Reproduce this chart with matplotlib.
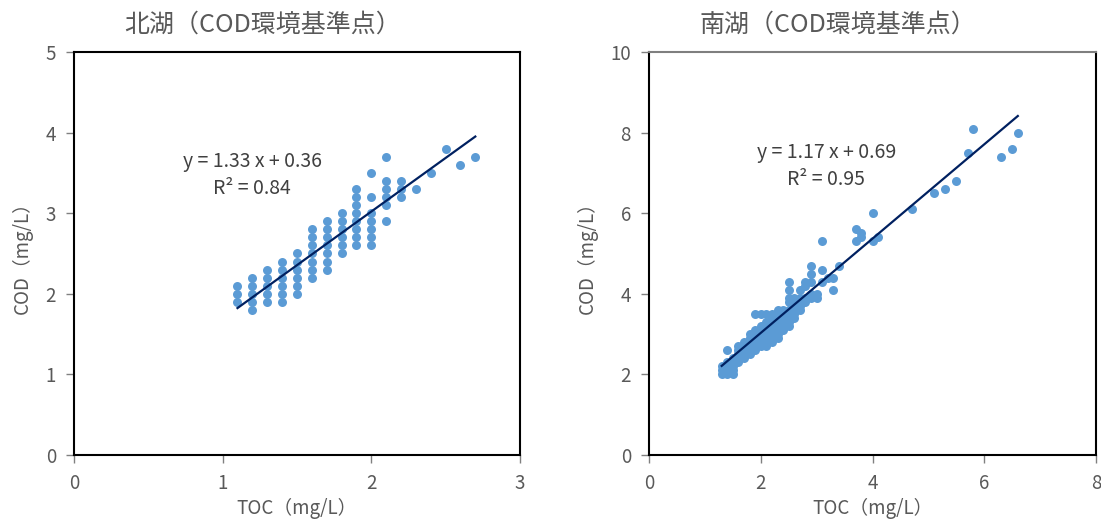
import numpy as np
import matplotlib
matplotlib.use("Agg")
import matplotlib.pyplot as plt

plt.rcParams['font.family'] = ['Noto Sans CJK JP', 'DejaVu Sans']

# 北湖 : TOC / COD (mg/L)
north_toc = [1.1, 1.1, 1.1,
             1.2, 1.2, 1.2, 1.2, 1.2,
             1.3, 1.3, 1.3, 1.3, 1.3,
             1.4, 1.4, 1.4, 1.4, 1.4, 1.4,
             1.5, 1.5, 1.5, 1.5, 1.5, 1.5,
             1.6, 1.6, 1.6, 1.6, 1.6, 1.6, 1.6,
             1.7, 1.7, 1.7, 1.7, 1.7, 1.7, 1.7,
             1.8, 1.8, 1.8, 1.8, 1.8, 1.8,
             1.9, 1.9, 1.9, 1.9, 1.9, 1.9, 1.9, 1.9,
             2.0, 2.0, 2.0, 2.0, 2.0, 2.0, 2.0,
             2.1, 2.1, 2.1, 2.1, 2.1, 2.1,
             2.2, 2.2, 2.2,
             2.3, 2.4, 2.5, 2.6, 2.7]
north_cod = [1.9, 2.0, 2.1,
             1.8, 1.9, 2.0, 2.1, 2.2,
             1.9, 2.0, 2.1, 2.2, 2.3,
             1.9, 2.0, 2.1, 2.2, 2.3, 2.4,
             2.0, 2.1, 2.2, 2.3, 2.4, 2.5,
             2.2, 2.3, 2.4, 2.5, 2.6, 2.7, 2.8,
             2.3, 2.4, 2.5, 2.6, 2.7, 2.8, 2.9,
             2.5, 2.6, 2.7, 2.8, 2.9, 3.0,
             2.6, 2.7, 2.8, 2.9, 3.0, 3.1, 3.2, 3.3,
             2.6, 2.7, 2.8, 2.9, 3.0, 3.2, 3.5,
             2.9, 3.1, 3.2, 3.3, 3.4, 3.7,
             3.2, 3.3, 3.4,
             3.3, 3.5, 3.8, 3.6, 3.7]
north_fit = (1.33, 0.36)
north_eq = ["y = 1.33 x + 0.36", "R² = 0.84"]

# 南湖 : TOC / COD (mg/L)
south_toc = [1.3, 1.3, 1.3,
             1.4, 1.4, 1.4, 1.4, 1.4,
             1.5, 1.5, 1.5, 1.5, 1.5,
             1.6, 1.6, 1.6, 1.6, 1.6,
             1.7, 1.7, 1.7, 1.7, 1.7,
             1.8, 1.8, 1.8, 1.8, 1.8, 1.8,
             1.9, 1.9, 1.9, 1.9, 1.9, 1.9, 1.9,
             2.0, 2.0, 2.0, 2.0, 2.0, 2.0, 2.0,
             2.1, 2.1, 2.1, 2.1, 2.1, 2.1, 2.1, 2.1,
             2.2, 2.2, 2.2, 2.2, 2.2, 2.2, 2.2, 2.2,
             2.3, 2.3, 2.3, 2.3, 2.3, 2.3, 2.3, 2.3,
             2.4, 2.4, 2.4, 2.4, 2.4, 2.4,
             2.5, 2.5, 2.5, 2.5, 2.5, 2.5, 2.5, 2.5, 2.5,
             2.6, 2.6, 2.6, 2.6, 2.6, 2.6,
             2.7, 2.7, 2.7, 2.7, 2.7,
             2.8, 2.8, 2.8, 2.8,
             2.9, 2.9, 2.9, 2.9, 2.9,
             3.0, 3.0,
             3.1, 3.1, 3.1,
             3.2, 3.3, 3.3, 3.4,
             3.7, 3.7, 3.8, 3.8, 4.0, 4.0, 4.1,
             4.7, 5.1, 5.3, 5.5, 5.7, 5.8, 6.3, 6.5, 6.6]
south_cod = [2.0, 2.1, 2.2,
             2.0, 2.1, 2.2, 2.3, 2.6,
             2.0, 2.1, 2.2, 2.3, 2.4,
             2.3, 2.4, 2.5, 2.6, 2.7,
             2.4, 2.5, 2.6, 2.7, 2.8,
             2.5, 2.6, 2.7, 2.8, 2.9, 3.0,
             2.6, 2.7, 2.8, 2.9, 3.0, 3.1, 3.5,
             2.7, 2.8, 2.9, 3.0, 3.1, 3.2, 3.5,
             2.7, 2.8, 2.9, 3.0, 3.1, 3.2, 3.3, 3.5,
             2.8, 2.9, 3.0, 3.1, 3.2, 3.3, 3.4, 3.5,
             2.9, 3.0, 3.1, 3.2, 3.3, 3.4, 3.5, 3.6,
             3.1, 3.2, 3.3, 3.4, 3.5, 3.6,
             3.2, 3.3, 3.4, 3.5, 3.6, 3.8, 3.9, 4.1, 4.3,
             3.4, 3.5, 3.6, 3.7, 3.8, 3.9,
             3.6, 3.7, 3.8, 3.9, 4.1,
             3.8, 3.9, 4.2, 4.3,
             3.9, 4.0, 4.3, 4.5, 4.7,
             3.9, 4.0,
             4.3, 4.6, 5.3,
             4.4, 4.1, 4.4, 4.7,
             5.3, 5.6, 5.4, 5.5, 5.3, 6.0, 5.4,
             6.1, 6.5, 6.6, 6.8, 7.5, 8.1, 7.4, 7.6, 8.0]
south_fit = (1.17, 0.69)
south_eq = ["y = 1.17 x + 0.69", "R² = 0.95"]

dot_color = "#5B9BD5"
line_color = "#002060"
grey = "#595959"


def draw_panel(ax, toc, cod, fit, eq, title, xmax, ymax, xstep, ystep, eq_pos):
    ax.scatter(toc, cod, s=42, color=dot_color, zorder=2, linewidths=0)
    xs = np.array([min(toc), max(toc)])
    ax.plot(xs, fit[0] * xs + fit[1], color=line_color, lw=1.6, zorder=3)

    ax.set_xlim(0, xmax)
    ax.set_ylim(0, ymax)
    ax.set_xticks(np.arange(0, xmax + 0.01, xstep))
    ax.set_yticks(np.arange(0, ymax + 0.01, ystep))
    ax.tick_params(direction="out", length=6, width=1, color="#808080",
                   labelcolor=grey, labelsize=13.5)
    ax.tick_params(axis="x", pad=7)
    ax.tick_params(axis="y", pad=7)
    for sp in ax.spines.values():
        sp.set_color("black")
        sp.set_linewidth(1.5)

    # excel puts the title a bit left of the plot centre
    ax.text(0.422, 1.0 + 27 / 403, title, transform=ax.transAxes, ha="center", va="center",
            fontsize=18, color=grey)
    ax.set_xlabel("TOC（mg/L）", fontsize=13.5, color=grey, labelpad=3)
    ax.set_ylabel("COD（mg/L）", fontsize=13.5, color=grey, labelpad=9)

    ax.text(eq_pos[0], eq_pos[1], eq[0] + "\n" + eq[1], ha="center", va="center",
            fontsize=14, color="#404040", linespacing=1.38, multialignment="center")


fig = plt.figure(figsize=(11.01, 5.2), dpi=100)
ax1 = fig.add_axes([0.0672, 0.125, 0.405, 0.775])
ax2 = fig.add_axes([0.5895, 0.125, 0.406, 0.775])

draw_panel(ax1, north_toc, north_cod, north_fit, north_eq, "北湖（COD環境基準点）",
           3, 5, 1, 1, (1.2, 3.47))
draw_panel(ax2, south_toc, south_cod, south_fit, south_eq, "南湖（COD環境基準点）",
           8, 10, 2, 2, (3.17, 7.17))
ax2.spines["top"].set_color("#7f7f7f")

fig.savefig("out.png", dpi=100)
